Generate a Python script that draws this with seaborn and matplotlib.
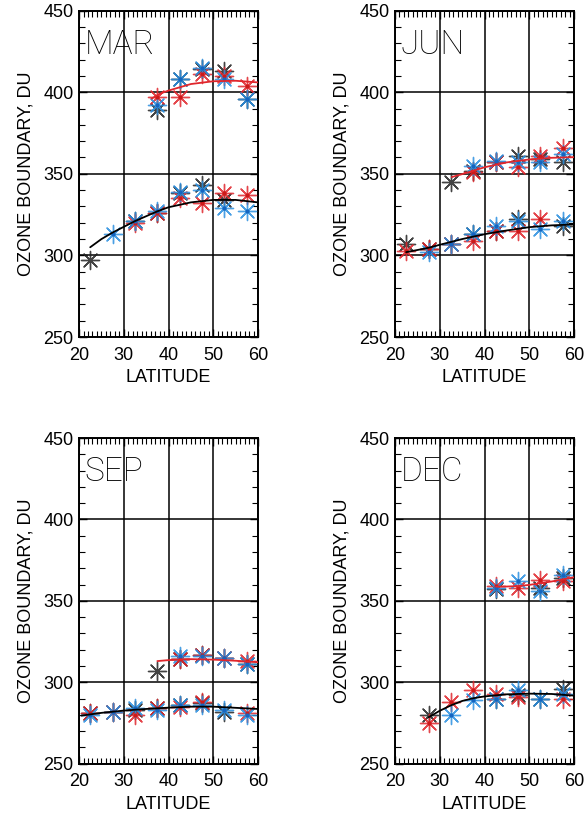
import numpy as np
import pandas as pd
import matplotlib
matplotlib.use('Agg')
import matplotlib.pyplot as plt
import seaborn as sns
from matplotlib.ticker import MultipleLocator

sns.set_theme(style='white')
plt.rcParams['font.family'] = ['Liberation Sans', 'DejaVu Sans']
plt.rcParams['text.color'] = 'black'
plt.rcParams['axes.labelcolor'] = 'black'
plt.rcParams['xtick.color'] = 'black'
plt.rcParams['ytick.color'] = 'black'

nan = np.nan
lat = [22.5, 27.5, 32.5, 37.5, 42.5, 47.5, 52.5, 57.5]

# scatter values per month: lower (black fit) and upper (red fit) boundary
mar_lo_black = [297, nan, 321, 326, 338, 343, 334, nan]
mar_lo_blue = [nan, 313, 321, 327, 339, 340, 329, 327]
mar_lo_red = [nan, nan, 320, 326, 335, 332, 338, 337]
mar_hi_black = [nan, nan, nan, 389, 408, 414, 413, 396]
mar_hi_blue = [nan, nan, nan, 392, 408, 415, 408, 396]
mar_hi_red = [nan, nan, nan, 397, 397, 411, 410, 404]

jun_lo_black = [307, 304, 307, 313, 315, 322, nan, 318]
jun_lo_blue = [nan, 302, 307, 313, 318, 321, 316, 321]
jun_lo_red = [303, 304, 307, 309, 315, 315, 322, nan]
jun_hi_black = [nan, nan, 345, 352, 357, 361, 359, 357]
jun_hi_blue = [nan, nan, nan, 355, 358, 357, 357, 362]
jun_hi_red = [nan, nan, nan, 351, 357, 354, 361, 366]

sep_lo_black = [281, 282, 283, 284, 286, 287, 282, nan]
sep_lo_blue = [280, 282, 284, 283, 286, 286, 283, 280]
sep_lo_red = [281, 282, 280, 284, 285, 288, nan, 281]
sep_hi_black = [nan, nan, nan, 307, 314, 317, 315, 311]
sep_hi_blue = [nan, nan, nan, nan, 316, 316, 315, 311]
sep_hi_red = [nan, nan, nan, nan, 314, 317, 315, 313]

dec_lo_black = [nan, 280, nan, nan, 290, 292, 290, 296]
dec_lo_blue = [nan, nan, 280, 289, 290, 295, 290, 293]
dec_lo_red = [nan, 275, 288, 295, 293, 291, nan, 290]
dec_hi_black = [nan, nan, nan, nan, 357, nan, 358, 364]
dec_hi_blue = [nan, nan, nan, nan, 358, 362, 356, 366]
dec_hi_red = [nan, nan, nan, nan, 359, 358, 363, 362]

# fitted curves
mar_fit_lo_lat = [22.5, 25, 27.5, 30, 32.5, 35, 37.5, 40, 45, 50, 55, 60]
mar_fit_lo = [305, 310, 314, 317.5, 321, 324, 327, 329.5, 332.5, 334, 334, 332.5]
mar_fit_hi_lat = [36.2, 38, 40, 42.5, 45, 50, 55, 60]
mar_fit_hi = [396, 399, 401, 403, 405, 406.7, 407, 406]
jun_fit_lo_lat = [22.5, 25, 27.5, 30, 35, 40, 45, 50, 55, 60]
jun_fit_lo = [302, 303.3, 304.7, 306.5, 310, 313, 315.3, 317.3, 318.4, 319]
jun_fit_hi_lat = [32.7, 35, 37.5, 40, 45, 50, 55, 60]
jun_fit_hi = [348, 349.8, 351.8, 354, 357, 358.8, 359.8, 360.2]
sep_fit_lo_lat = [20.5, 25, 30, 35, 40, 45, 50, 55, 60]
sep_fit_lo = [279.5, 281.2, 282.6, 283.6, 284.4, 285, 285, 284.3, 283.6]
sep_fit_hi_lat = [37.5, 40, 45, 50, 55, 60]
sep_fit_hi = [313, 313.6, 314.2, 313.9, 313.2, 312.3]
dec_fit_lo_lat = [27.5, 30, 32.5, 35, 37.5, 40, 45, 50, 55, 60]
dec_fit_lo = [278.5, 282.5, 285.8, 288.5, 290.2, 291.3, 292.6, 293, 292.8, 291.8]
dec_fit_hi_lat = [42.6, 45, 47.5, 50, 55, 60]
dec_fit_hi = [358.7, 358.8, 359.1, 359.8, 361.9, 364.5]

months = ['MAR', 'JUN', 'SEP', 'DEC']
points = {
    'MAR': {'black': mar_lo_black + mar_hi_black, 'blue': mar_lo_blue + mar_hi_blue, 'red': mar_lo_red + mar_hi_red},
    'JUN': {'black': jun_lo_black + jun_hi_black, 'blue': jun_lo_blue + jun_hi_blue, 'red': jun_lo_red + jun_hi_red},
    'SEP': {'black': sep_lo_black + sep_hi_black, 'blue': sep_lo_blue + sep_hi_blue, 'red': sep_lo_red + sep_hi_red},
    'DEC': {'black': dec_lo_black + dec_hi_black, 'blue': dec_lo_blue + dec_hi_blue, 'red': dec_lo_red + dec_hi_red},
}
fits = {
    'MAR': [(mar_fit_lo_lat, mar_fit_lo, 'black'), (mar_fit_hi_lat, mar_fit_hi, 'red')],
    'JUN': [(jun_fit_lo_lat, jun_fit_lo, 'black'), (jun_fit_hi_lat, jun_fit_hi, 'red')],
    'SEP': [(sep_fit_lo_lat, sep_fit_lo, 'black'), (sep_fit_hi_lat, sep_fit_hi, 'red')],
    'DEC': [(dec_fit_lo_lat, dec_fit_lo, 'black'), (dec_fit_hi_lat, dec_fit_hi, 'red')],
}
colors = {'black': '#222222', 'blue': '#2a8fe0', 'red': '#e0262c'}
dots = {'blue': '#1565c0', 'red': '#cc1a1a'}

fig = plt.figure(figsize=(5.88, 8.15), dpi=100)
pos = {
    'MAR': [0.1344, 0.5865, 0.3044, 0.4005],
    'JUN': [0.6718, 0.5865, 0.3044, 0.4005],
    'SEP': [0.1344, 0.0630, 0.3044, 0.3995],
    'DEC': [0.6718, 0.0630, 0.3044, 0.3995],
}

for m in months:
    ax = fig.add_axes(pos[m])
    for src in ['black', 'red', 'blue']:
        df = pd.DataFrame({'lat': lat + lat, 'value': points[m][src]}).dropna()
        sns.scatterplot(data=df, x='lat', y='value', ax=ax, color=colors[src],
                        marker=(8, 2, 0), s=170, linewidth=1.0, alpha=0.85,
                        legend=False, zorder=3)
        if src in dots:
            sns.scatterplot(data=df, x='lat', y='value', ax=ax, color=dots[src],
                            marker='o', s=9, linewidth=0, legend=False, zorder=4)
    for fx, fy, c in fits[m]:
        sns.lineplot(x=fx, y=fy, ax=ax, color=colors[c] if c == 'red' else 'black',
                     lw=1.3, sort=True, estimator=None, zorder=5)

    ax.set_xlim(20, 60)
    ax.set_ylim(250, 450)
    ax.xaxis.set_major_locator(MultipleLocator(10))
    ax.xaxis.set_minor_locator(MultipleLocator(1))
    ax.yaxis.set_major_locator(MultipleLocator(50))
    ax.yaxis.set_minor_locator(MultipleLocator(10))
    ax.tick_params(which='both', direction='in', top=True, right=True,
                   bottom=True, left=True, color='black')
    ax.tick_params(which='major', length=6, width=1, labelsize=13, pad=7)
    ax.tick_params(which='minor', length=4, width=0.8)
    ax.tick_params(axis='y', which='major', pad=4)
    ax.grid(which='major', color='black', lw=1.1)
    ax.set_axisbelow(True)
    for sp in ax.spines.values():
        sp.set_color('black')
        sp.set_linewidth(1.4)
    ax.set_xlabel('LATITUDE', fontsize=13, labelpad=4)
    ax.set_ylabel('OZONE BOUNDARY, DU', fontsize=13, labelpad=6)
    ax.text(0.03, 0.945, m, transform=ax.transAxes, fontsize=24,
            family=['Roboto', 'DejaVu Sans'], fontweight='light', color='black',
            ha='left', va='top', zorder=6)

fig.savefig('out.png', dpi=100)
